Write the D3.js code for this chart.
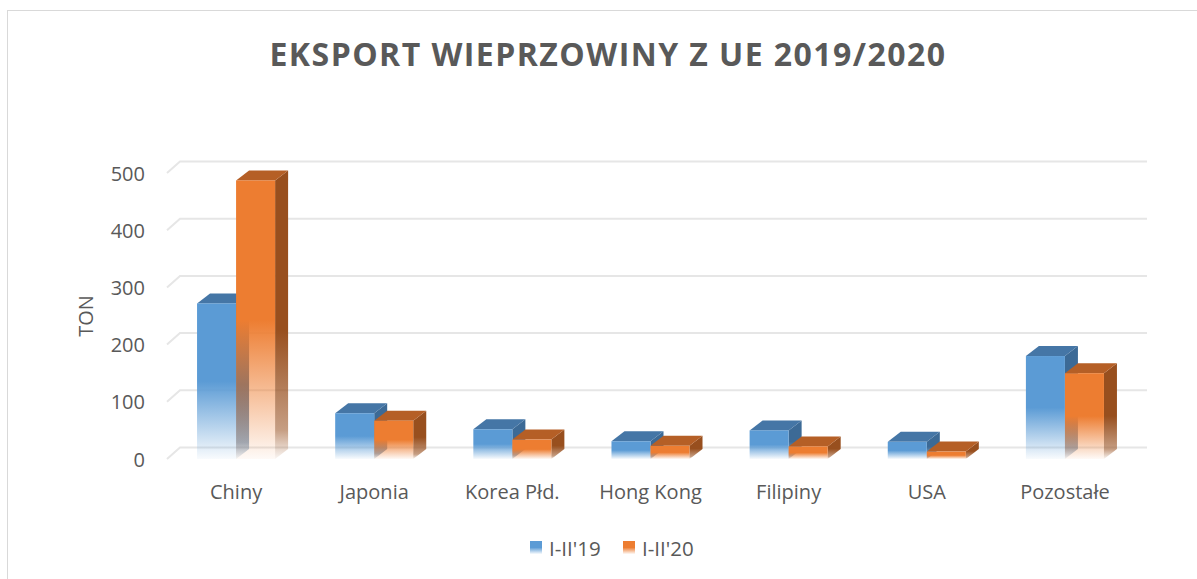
<!DOCTYPE html>
<html><head><meta charset="utf-8">
<script src="https://cdn.jsdelivr.net/npm/d3@7"></script>
<style>body{margin:0;background:#fff;} svg{display:block;} text{font-family:"Open Sans",sans-serif;}</style>
</head><body>
<svg id="c" width="1197" height="579"></svg>
<script>
const categories = ["Chiny","Japonia","Korea Płd.","Hong Kong","Filipiny","USA","Pozostałe"];
const seriesNames = ["I-II'19","I-II'20"];
const values2019 = [272, 80, 52, 31, 50, 30, 180];
const values2020 = [487, 67, 34, 23, 22, 13, 150];
const yTicks = [0,100,200,300,400,500];
const titleText = "EKSPORT WIEPRZOWINY Z UE 2019/2020";
const yAxisTitle = "TON";

const colors = [
  {front:"#5B9BD5", top:"#4576A6", side:"#3C6A96"},
  {front:"#ED7D31", top:"#B55F26", side:"#984F1E"}
];

const svg = d3.select("#c");
const defs = svg.append("defs");

// border
svg.append("rect").attr("x",7.5).attr("y",10.5).attr("width",1220).attr("height",620)
  .attr("fill","#fff").attr("stroke","#d9d9d9").attr("stroke-width",1);

// scales
const x = d3.scaleBand().domain(categories).range([167,1134]).paddingInner(0.435).paddingOuter(0.2175);
const xs = d3.scaleBand().domain(seriesNames).range([0, x.bandwidth()]);
const y = d3.scaleLinear().domain([0,500]).range([459,173]);
const floorDx = 13, floorDy = -11.5;
const barDx = 13, barDy = -10;

// gradients
colors.forEach((c,i)=>{
  const g = defs.append("linearGradient").attr("id","gf"+i).attr("x1",0).attr("y1",0).attr("x2",0).attr("y2",1);
  g.append("stop").attr("offset",0).attr("stop-color",c.front).attr("stop-opacity",1);
  g.append("stop").attr("offset",0.5).attr("stop-color",c.front).attr("stop-opacity",1);
  g.append("stop").attr("offset",1).attr("stop-color",c.front).attr("stop-opacity",0.04);
  const s = defs.append("linearGradient").attr("id","gs"+i).attr("x1",0).attr("y1",0).attr("x2",0).attr("y2",1);
  s.append("stop").attr("offset",0).attr("stop-color",c.side).attr("stop-opacity",1);
  s.append("stop").attr("offset",0.55).attr("stop-color",c.side).attr("stop-opacity",1);
  s.append("stop").attr("offset",0.9).attr("stop-color",c.side).attr("stop-opacity",0.55);
  s.append("stop").attr("offset",1).attr("stop-color",c.side).attr("stop-opacity",0.05);
});

// gridlines
const grid = svg.append("g");
yTicks.forEach(t=>{
  const yf = y(t);
  grid.append("path")
    .attr("d", `M${x.range()[0]},${yf} L${x.range()[0]+floorDx},${yf+floorDy} L${x.range()[1]+floorDx},${yf+floorDy}`)
    .attr("fill","none").attr("stroke","#e6e6e6").attr("stroke-width",2);
  svg.append("text").attr("x",145).attr("y",yf).attr("text-anchor","end")
    .attr("dominant-baseline","central").attr("font-size",20).attr("fill","#595959").text(t);
});

// bars
const data = categories.map((c,i)=>({cat:c, vals:[values2019[i], values2020[i]]}));
const bars = svg.append("g");
data.forEach(d=>{
  d.vals.forEach((v,si)=>{
    const x0 = x(d.cat) + xs(seriesNames[si]);
    const w = xs.bandwidth();
    const yt = y(v), yb = y(0);
    const c = colors[si];
    const g = bars.append("g");
    g.append("path").attr("d",`M${x0+w},${yt} L${x0+w+barDx},${yt+barDy} L${x0+w+barDx},${yb+barDy} L${x0+w},${yb} Z`)
      .attr("fill",`url(#gs${si})`);
    g.append("path").attr("d",`M${x0},${yt} L${x0+barDx},${yt+barDy} L${x0+w+barDx},${yt+barDy} L${x0+w},${yt} Z`)
      .attr("fill",c.top);
    g.append("rect").attr("x",x0).attr("y",yt).attr("width",w).attr("height",yb-yt)
      .attr("fill",`url(#gf${si})`);
  });
});

// category labels
categories.forEach(c=>{
  svg.append("text").attr("x",x(c)+x.bandwidth()/2).attr("y",491).attr("text-anchor","middle")
    .attr("dominant-baseline","central").attr("font-size",20).attr("fill","#595959").text(c);
});

// y axis title
svg.append("text").attr("transform","translate(85,316) rotate(-90)").attr("text-anchor","middle")
  .attr("dominant-baseline","central").attr("font-size",20).attr("fill","#595959").text(yAxisTitle);

// title
svg.append("text").attr("x",608).attr("y",66).attr("text-anchor","middle")
  .attr("font-size",32).attr("font-weight","bold").attr("fill","#595959").attr("letter-spacing",1.45).text(titleText);

// legend
const legendX = [530, 623];
seriesNames.forEach((n,i)=>{
  svg.append("rect").attr("x",legendX[i]).attr("y",541).attr("width",12).attr("height",13)
    .attr("fill",`url(#gf${i})`);
  svg.append("text").attr("x",legendX[i]+19).attr("y",548).attr("dominant-baseline","central")
    .attr("font-size",20.5).attr("fill","#595959").text(n);
});
</script>
</body></html>
